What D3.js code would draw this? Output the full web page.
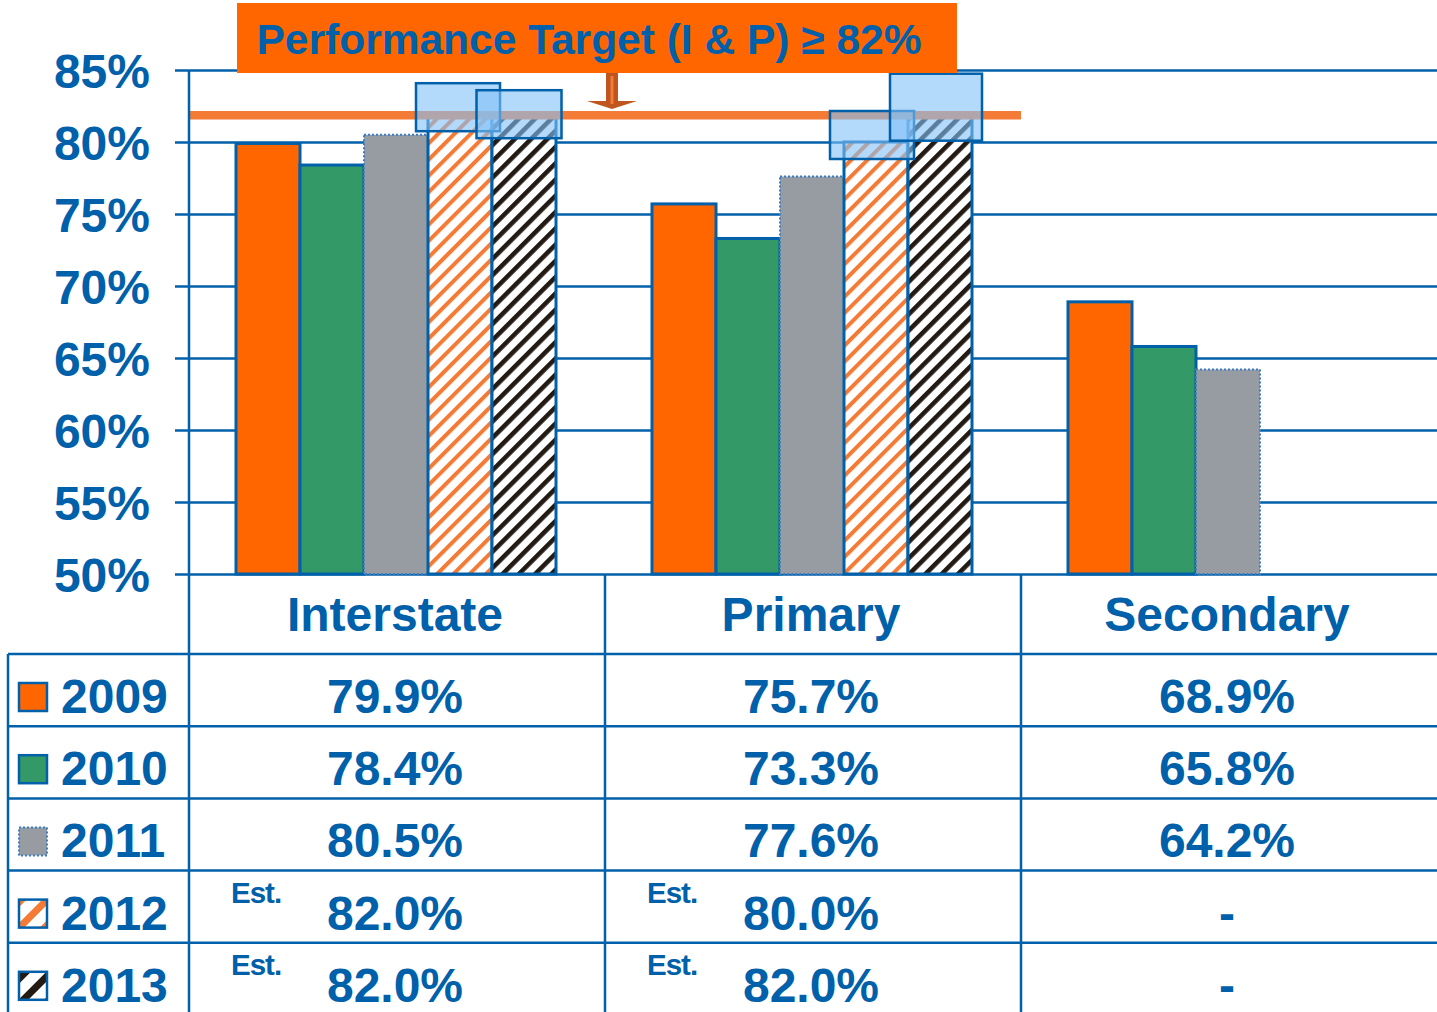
<!DOCTYPE html>
<html>
<head>
<meta charset="utf-8">
<script src="https://cdn.jsdelivr.net/npm/d3@7"></script>
<style>
  body { margin: 0; background: #fff; }
  svg { display: block; font-family: "Liberation Sans", Arial, Helvetica, sans-serif; font-weight: bold; }
</style>
</head>
<body>
<svg id="chart"></svg>
<script>
// data
const categories = ["Interstate", "Primary", "Secondary"];
const years = ["2009", "2010", "2011", "2012", "2013"];
const v2009 = [79.9, 75.7, 68.9];
const v2010 = [78.4, 73.3, 65.8];
const v2011 = [80.5, 77.6, 64.2];
const v2012 = [82.0, 80.0, null];
const v2013 = [82.0, 82.0, null];
const estimatedYears = ["2012", "2013"];
const yTicks = [50, 55, 60, 65, 70, 75, 80, 85];
const targetValue = 82;
const titleText = "Performance Target (I & P) \u2265 82%";

const series = [v2009, v2010, v2011, v2012, v2013];

// look
const width = 1437, height = 1012;
const blue = "#0060AA";
const fills = ["#FF6600", "#339966", "#969CA1", "url(#hatchO)", "url(#hatchK)"];
const legendFills = ["#FF6600", "#339966", "#969CA1", "url(#hatchOL)", "url(#hatchKL)"];
const plotLeft = 189, plotTop = 70, plotBottom = 574;
const tableLeft = 8, tableTop = 654;

const svg = d3.select("#chart")
  .attr("width", width)
  .attr("height", height)
  .attr("viewBox", `0 0 ${width} ${height}`);

// hatch patterns
const defs = svg.append("defs");
const addHatch = (id, color, period, stripe) => {
  const p = defs.append("pattern")
    .attr("id", id)
    .attr("patternUnits", "userSpaceOnUse")
    .attr("width", period)
    .attr("height", period)
    .attr("patternTransform", "rotate(45)");
  p.append("rect").attr("width", period).attr("height", period).attr("fill", "#fff");
  p.append("rect").attr("width", stripe).attr("height", period).attr("fill", color);
};
addHatch("hatchO", "#F47B35", 11.5, 4);
addHatch("hatchK", "#231A14", 11.5, 4.6);
addHatch("hatchOL", "#F47B35", 18, 7);
addHatch("hatchKL", "#231A14", 18, 7);

// scales
const x0 = d3.scaleBand().domain(categories).range([plotLeft, width]);
const x1 = d3.scaleBand().domain(years).range([47, 367]);
const y = d3.scaleLinear().domain([50, 85]).range([plotBottom, plotTop]);
const rowScale = d3.scaleBand().domain(years).range([tableTop, tableTop + 72.2 * 5]);

// gridlines + y labels
const yAxis = d3.axisLeft(y)
  .tickValues(yTicks)
  .tickSize(-(width - 175))
  .tickPadding(25)
  .tickFormat(d => d + "%");

const gAxis = svg.append("g")
  .attr("transform", "translate(175,0)")
  .call(yAxis);
gAxis.select(".domain").remove();
gAxis.selectAll(".tick line").attr("stroke", blue).attr("stroke-width", 2.5);
gAxis.selectAll(".tick text")
  .attr("fill", blue)
  .attr("font-size", 48)
  .attr("font-family", "'Liberation Sans', Arial, sans-serif")
  .attr("font-weight", "bold")
  .attr("dy", "0.37em");

// bars
years.forEach((yr, i) => {
  const rows = categories
    .map((c, j) => ({ cat: c, value: series[i][j] }))
    .filter(d => d.value !== null);
  const sel = svg.append("g").selectAll("rect")
    .data(rows)
    .join("rect")
    .attr("x", d => x0(d.cat) + x1(yr))
    .attr("y", d => y(d.value))
    .attr("width", x1.bandwidth())
    .attr("height", d => plotBottom - y(d.value))
    .attr("fill", fills[i]);
  if (yr === "2011") {
    sel.attr("stroke", "#3d7cc2").attr("stroke-width", 2).attr("stroke-dasharray", "2,2");
  } else {
    sel.attr("stroke", blue).attr("stroke-width", 3);
  }
});

// target line
svg.append("line")
  .attr("x1", x0("Interstate"))
  .attr("x2", x0("Primary") + x0.bandwidth())
  .attr("y1", y(targetValue) + 2)
  .attr("y2", y(targetValue) + 2)
  .attr("stroke", "#F47B35")
  .attr("stroke-width", 8.5);

// highlight boxes on the estimated tops
const boxStyle = [
  { dx: -2, dy: -6, w: 84, h: 48 },
  { dx: -5, dy: 1, w: 85, h: 48 },
  { dx: -4, dy: -7, w: 84, h: 48 },
  { dx: -4, dy: -6, w: 92, h: 67 }
];
const highlights = [];
categories.forEach((c, j) => {
  estimatedYears.forEach(yr => {
    const v = series[years.indexOf(yr)][j];
    if (v !== null) highlights.push({ cat: c, year: yr, value: v });
  });
});
svg.append("g").selectAll("rect")
  .data(highlights)
  .join("rect")
  .attr("x", (d, i) => x0(d.cat) + x1(d.year) + x1.bandwidth() / 2 + boxStyle[i].dx - boxStyle[i].w / 2)
  .attr("y", (d, i) => y(d.value) + boxStyle[i].dy - boxStyle[i].h / 2)
  .attr("width", (d, i) => boxStyle[i].w)
  .attr("height", (d, i) => boxStyle[i].h)
  .attr("fill", "#82C1F8")
  .attr("fill-opacity", 0.6)
  .attr("stroke", blue)
  .attr("stroke-width", 2.5);

// title banner
svg.append("rect")
  .attr("x", 237).attr("y", 3)
  .attr("width", 720).attr("height", 70)
  .attr("fill", "#FF6600");
svg.append("text")
  .attr("x", 589).attr("y", 54)
  .attr("text-anchor", "middle")
  .attr("font-size", 42.5)
  .attr("fill", blue)
  .text(titleText);

// down arrow from the banner to the target line
const ax = x0("Primary") + 7;
svg.append("path")
  .attr("d", `M${ax - 6},73 L${ax + 6},73 L${ax + 6},101 L${ax + 25},101 L${ax},109 L${ax - 25},101 L${ax - 6},101 Z`)
  .attr("fill", "#C0561F");
svg.append("rect")
  .attr("x", ax - 1.5).attr("y", 76)
  .attr("width", 3).attr("height", 28)
  .attr("fill", "#F47B35");

// table lines
const lines = svg.append("g").attr("stroke", blue).attr("stroke-width", 2.5);
lines.append("line").attr("x1", plotLeft).attr("x2", plotLeft).attr("y1", plotTop).attr("y2", height);
lines.append("line").attr("x1", tableLeft).attr("x2", tableLeft).attr("y1", tableTop).attr("y2", height);
categories.slice(1).forEach(c => {
  lines.append("line").attr("x1", x0(c)).attr("x2", x0(c)).attr("y1", plotBottom).attr("y2", height);
});
years.forEach(yr => {
  lines.append("line")
    .attr("x1", tableLeft).attr("x2", width)
    .attr("y1", rowScale(yr)).attr("y2", rowScale(yr));
});

// category header
svg.append("g").selectAll("text")
  .data(categories)
  .join("text")
  .attr("x", d => x0(d) + x0.bandwidth() / 2 - 2)
  .attr("y", 631)
  .attr("text-anchor", "middle")
  .attr("font-size", 48)
  .attr("fill", blue)
  .text(d => d);

// legend rows
const fmt = d3.format(".1f");
years.forEach((yr, i) => {
  const top = rowScale(yr);
  const sw = svg.append("rect")
    .attr("x", 19).attr("y", top + 29)
    .attr("width", 28).attr("height", 28)
    .attr("fill", legendFills[i]);
  if (yr === "2011") sw.attr("stroke", "#3d7cc2").attr("stroke-width", 2).attr("stroke-dasharray", "2,2");
  else sw.attr("stroke", blue).attr("stroke-width", 2.5);

  svg.append("text")
    .attr("x", 61).attr("y", top + 59)
    .attr("font-size", 48)
    .attr("fill", blue)
    .text(yr);

  categories.forEach((c, j) => {
    const v = series[i][j];
    svg.append("text")
      .attr("x", x0(c) + x0.bandwidth() / 2 - 2)
      .attr("y", top + 59)
      .attr("text-anchor", "middle")
      .attr("font-size", 48)
      .attr("fill", blue)
      .text(v === null ? "-" : fmt(v) + "%");
    if (v !== null && estimatedYears.includes(yr)) {
      svg.append("text")
        .attr("x", x0(c) + 42)
        .attr("y", top + 32)
        .attr("font-size", 29.5)
        .attr("letter-spacing", -1)
        .attr("fill", blue)
        .text("Est.");
    }
  });
});
</script>
</body>
</html>
